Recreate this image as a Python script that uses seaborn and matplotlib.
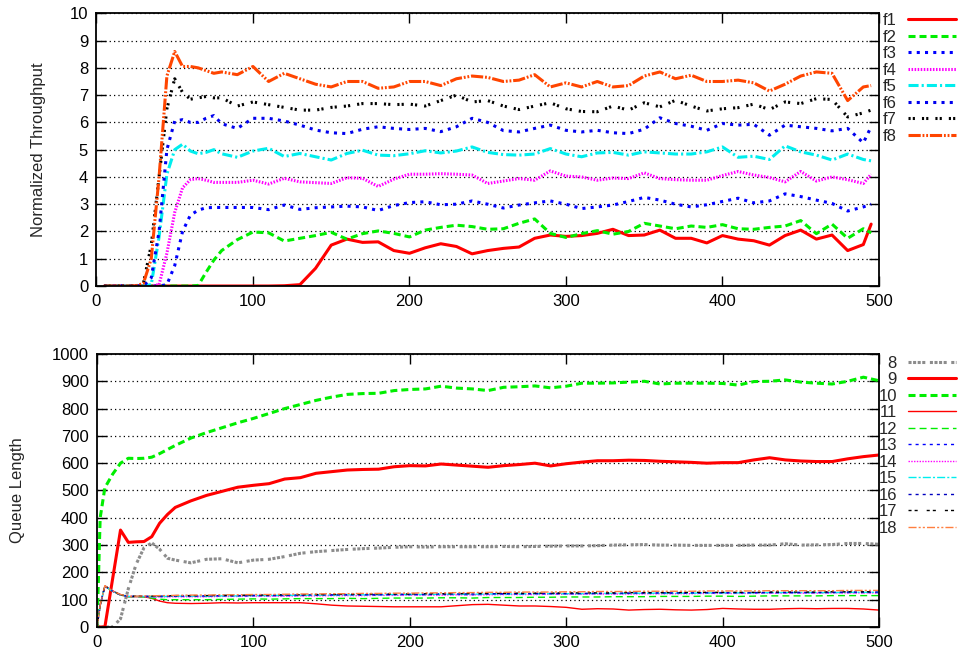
import matplotlib
matplotlib.use("Agg")
import matplotlib.pyplot as plt
import seaborn as sns

# time axis, throughput panel
t_thr = [5, 15, 25, 30, 35, 40, 45, 50, 55, 60, 65, 70, 75, 80,
         90, 100, 110, 120, 130, 140, 150, 160, 170, 180,
         190, 200, 210, 220, 230, 240, 250, 260, 270, 280,
         290, 300, 310, 320, 330, 340, 350, 360, 370, 380,
         390, 400, 410, 420, 430, 440, 450, 460, 470, 480,
         490, 495]

f1 = [0, 0, 0, 0, 0, 0, 0, 0, 0, 0, 0, 0, 0, 0,
      0, 0, 0, 0.01, 0.05, 0.65, 1.5, 1.72, 1.6, 1.62,
      1.3, 1.2, 1.4, 1.55, 1.45, 1.18, 1.3, 1.38, 1.43, 1.75,
      1.87, 1.82, 1.85, 1.93, 2.08, 1.85, 1.87, 2.05, 1.75, 1.75,
      1.58, 1.85, 1.72, 1.66, 1.5, 1.85, 2.05, 1.72, 1.87, 1.3,
      1.52, 2.27]
f2 = [0, 0, 0, 0, 0, 0, 0, 0, 0, 0, 0.02, 0.5, 0.95, 1.3,
      1.7, 1.98, 1.95, 1.65, 1.75, 1.85, 1.97, 1.72, 1.92, 2.02,
      1.93, 1.8, 2.05, 2.15, 2.23, 2.18, 2.08, 2.1, 2.3, 2.46,
      1.93, 1.78, 1.92, 2.03, 1.9, 2.0, 2.3, 2.2, 2.1, 2.2,
      2.15, 2.25, 2.1, 2.08, 2.15, 2.2, 2.4, 1.92, 2.27, 1.75,
      2.1, 1.95]
f3 = [0, 0, 0, 0, 0, 0, 0.05, 0.75, 2.0, 2.6, 2.78, 2.87, 2.88, 2.88,
      2.88, 2.88, 2.8, 2.97, 2.81, 2.87, 2.9, 2.93, 2.9, 2.77,
      2.95, 3.06, 3.09, 2.98, 3.0, 3.12, 3.0, 2.86, 2.97, 3.05,
      3.12, 3.0, 2.84, 2.9, 2.97, 3.1, 3.25, 3.15, 3.0, 2.9,
      2.98, 3.1, 3.22, 3.05, 3.12, 3.38, 3.28, 3.15, 3.03, 2.75,
      2.9, 3.0]
f4 = [0, 0, 0, 0, 0, 0.05, 1.2, 2.7, 3.6, 3.9, 3.94, 3.88, 3.8, 3.8,
      3.8, 3.88, 3.74, 3.95, 3.82, 3.79, 3.76, 3.97, 3.95, 3.65,
      3.92, 4.1, 4.1, 4.12, 4.1, 4.07, 3.76, 3.85, 3.94, 3.88,
      4.22, 4.03, 4.0, 3.88, 3.96, 3.94, 4.15, 3.94, 3.9, 3.88,
      3.88, 4.05, 4.2, 4.07, 3.98, 3.82, 4.2, 3.85, 4.0, 3.9,
      3.76, 4.1]
f5 = [0, 0, 0, 0, 0.05, 1.8, 4.1, 5.0, 5.2, 4.95, 4.85, 4.9, 5.0, 4.85,
      4.72, 4.95, 5.05, 4.75, 4.86, 4.74, 4.62, 4.86, 4.98, 4.8,
      4.78, 4.85, 4.96, 4.88, 4.95, 5.1, 4.9, 4.82, 4.8, 4.84,
      5.04, 4.84, 4.74, 4.88, 4.9, 4.8, 4.92, 4.88, 4.84, 4.84,
      4.92, 5.1, 4.72, 4.76, 4.64, 5.14, 4.92, 4.8, 4.62, 4.84,
      4.64, 4.59]
f6 = [0, 0, 0, 0, 0.3, 2.0, 5.0, 6.05, 6.1, 6.0, 6.0, 6.15, 6.25, 5.95,
      5.78, 6.15, 6.15, 6.05, 5.9, 5.72, 5.62, 5.59, 5.75, 5.84,
      5.78, 5.74, 5.78, 5.66, 5.84, 6.15, 6.0, 5.7, 5.65, 5.78,
      5.9, 5.71, 5.65, 5.71, 5.62, 5.59, 5.75, 6.17, 5.96, 5.86,
      5.71, 5.96, 5.9, 5.93, 5.53, 5.9, 5.84, 5.78, 5.69, 5.78,
      5.25, 5.84]
f7 = [0, 0, 0, 0.1, 1.5, 4.0, 6.5, 7.6, 7.1, 6.85, 6.9, 6.95, 6.9, 6.9,
      6.6, 6.75, 6.65, 6.55, 6.45, 6.45, 6.55, 6.6, 6.69, 6.69,
      6.65, 6.67, 6.6, 6.8, 7.0, 6.75, 6.8, 6.6, 6.47, 6.6,
      6.72, 6.5, 6.4, 6.39, 6.6, 6.45, 6.72, 6.57, 6.81, 6.6,
      6.42, 6.5, 6.54, 6.67, 6.47, 6.75, 6.69, 6.87, 6.84, 6.2,
      6.35, 6.45]
f8 = [0, 0, 0, 0.1, 1.0, 4.0, 7.7, 8.6, 8.05, 8.05, 8.0, 7.9, 7.8, 7.85,
      7.75, 8.05, 7.5, 7.8, 7.6, 7.4, 7.3, 7.5, 7.5, 7.25,
      7.3, 7.5, 7.5, 7.35, 7.6, 7.7, 7.65, 7.5, 7.55, 7.75,
      7.3, 7.45, 7.3, 7.5, 7.3, 7.35, 7.7, 7.85, 7.6, 7.73,
      7.5, 7.5, 7.55, 7.45, 7.15, 7.4, 7.7, 7.85, 7.8, 6.8,
      7.3, 7.35]

# time axis, queue panel
t_q = [0, 2, 5, 10, 15, 20, 25, 30, 35, 40, 45, 50,
       60, 70, 80, 90, 100, 110, 120, 130, 140, 150,
       160, 170, 180, 190, 200, 210, 220, 230, 240, 250,
       260, 270, 280, 290, 300, 310, 320, 330, 340, 350,
       360, 370, 380, 390, 400, 410, 420, 430, 440, 450,
       460, 470, 480, 490, 500]

q8 = [0, 0, 0, 0, 30, 140, 230, 290, 308, 285, 252, 245,
      235, 248, 250, 235, 245, 248, 258, 270, 276, 280,
      284, 287, 289, 292, 294, 293, 294, 294, 294, 294,
      295, 294, 295, 296, 297, 297, 298, 300, 301, 302,
      300, 300, 299, 299, 299, 299, 300, 300, 305, 300,
      301, 302, 306, 306, 303]
q9 = [0, 0, 0, 178, 355, 310, 312, 313, 331, 380, 412, 438,
      462, 482, 497, 512, 519, 525, 542, 547, 563, 569,
      575, 577, 578, 587, 591, 590, 597, 593, 589, 585,
      591, 595, 600, 590, 598, 604, 609, 609, 611, 610,
      607, 605, 603, 600, 602, 602, 612, 620, 612, 608,
      606, 606, 616, 624, 630]
q10 = [0, 400, 510, 560, 600, 618, 617, 618, 622, 635, 650, 665,
       692, 712, 730, 748, 764, 782, 800, 815, 830, 842,
       852, 855, 856, 866, 870, 872, 882, 875, 872, 866,
       878, 880, 883, 876, 882, 893, 893, 894, 897, 900,
       890, 893, 893, 893, 892, 886, 899, 900, 905, 897,
       893, 890, 900, 915, 902]
q11 = [0, 80, 150, 132, 118, 111, 111, 111, 105, 95, 89, 87,
       86, 87, 89, 88, 89, 89, 89, 89, 85, 80,
       77, 76, 75, 74, 74, 74, 74, 78, 82, 83,
       80, 77, 77, 75, 72, 65, 67, 66, 62, 64,
       65, 63, 62, 64, 68, 66, 65, 65, 67, 68,
       67, 68, 68, 66, 62]
q12 = [0, 80, 150, 130, 117, 111, 111, 110, 106, 102, 100, 100,
       100, 100, 101, 102, 103, 102, 103, 104, 104, 104,
       105, 104, 105, 106, 106, 106, 107, 107, 106, 108,
       108, 108, 109, 109, 110, 110, 110, 111, 111, 111,
       112, 112, 112, 113, 113, 112, 113, 114, 114, 114,
       114, 115, 115, 115, 115]
q13 = [0, 80, 150, 131, 118, 112, 112, 112, 111, 111, 112, 112,
       112, 112, 113, 113, 114, 114, 115, 115, 116, 116,
       117, 116, 117, 118, 118, 118, 119, 119, 118, 120,
       120, 120, 121, 121, 121, 122, 122, 122, 123, 123,
       123, 123, 124, 124, 124, 124, 125, 125, 125, 125,
       125, 126, 126, 126, 126]
q14 = [0, 80, 149, 131, 118, 112, 112, 112, 110, 110, 111, 111,
       111, 111, 112, 112, 113, 113, 113, 114, 114, 115,
       115, 115, 116, 116, 117, 117, 117, 118, 118, 118,
       119, 119, 119, 120, 120, 120, 121, 121, 121, 122,
       122, 122, 122, 123, 123, 123, 123, 124, 124, 124,
       124, 125, 125, 125, 125]
q15 = [0, 80, 150, 131, 118, 112, 112, 112, 111, 112, 112, 113,
       113, 113, 114, 114, 115, 115, 116, 116, 117, 117,
       118, 118, 118, 119, 119, 119, 120, 120, 120, 121,
       121, 121, 122, 122, 122, 122, 123, 123, 123, 124,
       124, 124, 124, 125, 125, 125, 125, 126, 126, 126,
       126, 126, 127, 127, 127]
q16 = [0, 80, 150, 131, 118, 112, 112, 113, 112, 113, 113, 114,
       114, 114, 115, 115, 116, 116, 117, 117, 118, 118,
       119, 119, 119, 120, 120, 120, 121, 121, 121, 122,
       122, 122, 123, 123, 123, 123, 124, 124, 124, 125,
       125, 125, 125, 126, 126, 126, 126, 127, 127, 127,
       127, 127, 128, 128, 128]
q17 = [0, 80, 151, 132, 118, 112, 113, 113, 113, 114, 114, 115,
       115, 115, 116, 116, 117, 117, 118, 118, 119, 119,
       120, 120, 121, 121, 121, 122, 122, 122, 123, 123,
       123, 124, 124, 124, 125, 125, 125, 125, 126, 126,
       126, 126, 127, 127, 127, 127, 127, 128, 128, 128,
       128, 129, 129, 129, 129]
q18 = [0, 80, 151, 132, 119, 113, 113, 114, 114, 115, 115, 116,
       117, 117, 118, 118, 119, 119, 120, 121, 121, 122,
       122, 123, 123, 124, 124, 125, 125, 126, 126, 127,
       127, 128, 128, 128, 129, 129, 130, 130, 130, 131,
       131, 131, 131, 132, 132, 132, 132, 133, 133, 133,
       133, 133, 134, 134, 134]

thr_labels = ["f1", "f2", "f3", "f4", "f5", "f6", "f7", "f8"]
q_labels = ["8", "9", "10", "11", "12", "13", "14", "15", "16", "17", "18"]

sns.set_style("ticks")
plt.rcParams["font.family"] = ["Liberation Sans", "DejaVu Sans"]
plt.rcParams["font.size"] = 12

fig = plt.figure(figsize=(9.58, 6.56), dpi=100)
ax1 = fig.add_axes([0.1007, 0.564, 0.8168, 0.4157])
ax2 = fig.add_axes([0.1013, 0.0442, 0.8163, 0.4162])

# (colour, width, dash pattern) per line, gnuplot-like
thick = 2.2
thin = 1.0
thr_styles = [
    ("#ff0000", thick, "-"),
    ("#00ee00", thick, (0, (2.3, 1.3))),
    ("#0000ff", thick, (0, (1, 1.7))),
    ("#ff00ff", thick, (0, (0.5, 0.5))),
    ("#00eeee", thick, (0, (3.3, 1, 0.7, 1))),
    ("#0000ee", thick, (0, (1, 1.7))),
    ("#000000", thick, (0, (0.7, 0.7, 0.7, 2.3))),
    ("#ff4500", thick, (0, (4, 0.6, 0.6, 0.6, 0.6, 0.6))),
]
q_styles = [
    ("#8c8c8c", thick, (0, (1, 0.5, 1, 0.5, 1, 0.5, 1, 1.5))),
    ("#ff0000", thick, "-"),
    ("#00ee00", thick, (0, (2.3, 1.3))),
    ("#ff0000", thin, "-"),
    ("#00ee00", thin, (0, (5, 3))),
    ("#0000ff", thin, (0, (2.2, 2.9))),
    ("#ff00ff", thin, (0, (1, 1))),
    ("#00eeee", thin, (0, (5.8, 1.5, 1.5, 1.5))),
    ("#0000c0", thin, (0, (2.2, 2.9))),
    ("#000000", thin, (0, (2.2, 2.2, 2.2, 6.5))),
    ("#ff7f3f", thin, (0, (5.8, 1.5, 1.5, 1.5, 1.5, 1.5))),
]

thr_series = [f1, f2, f3, f4, f5, f6, f7, f8]
q_series = [q8, q9, q10, q11, q12, q13, q14, q15, q16, q17, q18]

for lab, vals, (c, lw, ls) in zip(thr_labels, thr_series, thr_styles):
    sns.lineplot(x=t_thr, y=vals, ax=ax1, color=c, linewidth=lw, linestyle=ls, label=lab)

for lab, vals, (c, lw, ls) in zip(q_labels, q_series, q_styles):
    sns.lineplot(x=t_q, y=vals, ax=ax2, color=c, linewidth=lw, linestyle=ls, label=lab)


def style_axes(ax, ymax, ystep):
    ax.set_xlim(0, 500)
    ax.set_ylim(0, ymax)
    ax.set_xticks(range(0, 501, 100))
    ax.set_yticks(range(0, ymax + 1, ystep))
    ax.tick_params(direction="in", length=7, width=1, top=True, right=True,
                   labelsize=12, colors="black", pad=6)
    ax.yaxis.grid(True, color="black", linestyle=(0, (1, 2.5)), linewidth=0.9)
    ax.xaxis.grid(False)
    ax.set_axisbelow(True)
    for s in ax.spines.values():
        s.set_visible(True)
        s.set_linewidth(1.3)
        s.set_color("black")
    ax.set_xlabel("")


style_axes(ax1, 10, 1)
style_axes(ax2, 1000, 100)

ax1.set_ylabel("Normalized Throughput", fontsize=12)
ax1.yaxis.set_label_coords(-0.0646, 0.5)
ax2.set_ylabel("Queue Length", fontsize=12)
ax2.yaxis.set_label_coords(-0.092, 0.5)

leg_kw = dict(loc="upper right", bbox_transform=fig.transFigure, frameon=False,
              markerfirst=False, handlelength=2.9, handletextpad=0.65,
              labelspacing=0.09, borderpad=0, borderaxespad=0, fontsize=12)
ax1.legend(bbox_to_anchor=(0.998, 0.980), **leg_kw)
ax2.legend(bbox_to_anchor=(0.998, 0.458), **leg_kw)

fig.savefig("out.png", dpi=100)
